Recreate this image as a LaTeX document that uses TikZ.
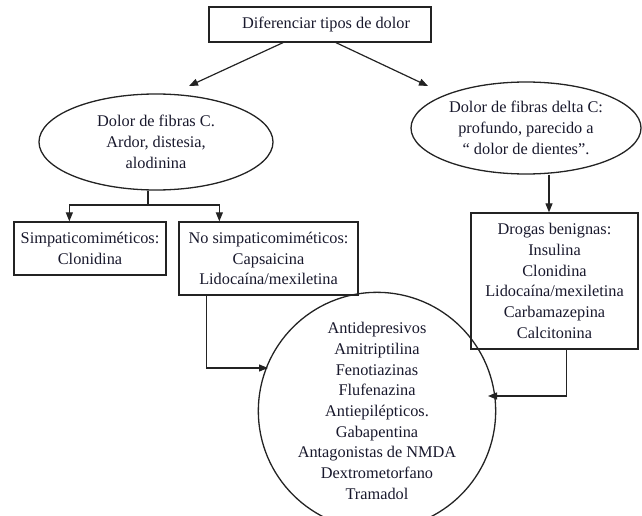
\documentclass[tikz,border=0pt]{standalone}
\usepackage{fontspec}
\setmainfont{Liberation Serif}
\usetikzlibrary{arrows.meta,shapes.geometric,calc}
\definecolor{txt}{RGB}{24,24,44}
\definecolor{lnc}{RGB}{35,35,35}
\begin{document}
\begin{tikzpicture}[x=1pt,y=-1pt,
  every node/.style={font=\fontsize{16.3}{20.7}\selectfont, text=txt, align=center, inner sep=0pt},
  box/.style={draw=lnc, line width=1.3pt, rectangle},
  oval/.style={draw=lnc, line width=1.3pt, ellipse},
  arr/.style={draw=lnc, line width=1.2pt, -{Triangle[length=9pt,width=7pt]}},
  conn/.style={draw=lnc, line width=1.2pt}]
\useasboundingbox (0,0) rectangle (642,516);

\node[box, minimum width=222pt, minimum height=35pt] (top) at (320,24.5) {\hspace*{12pt}Diferenciar tipos de dolor};

\node[oval, minimum width=234pt, minimum height=96pt] (lell) at (156,142)
  {Dolor de fibras C.\\Ardor, distesia,\\alodinina};
\node[oval, minimum width=230pt, minimum height=92pt] (rell) at (526,128)
  {Dolor de fibras delta C:\\profundo, parecido a\\“ dolor de dientes”.};

\node[box, minimum width=152pt, minimum height=53pt] (simp) at (90,248.5)
  {Simpaticomiméticos:\\Clonidina};
\node[box, minimum width=179pt, minimum height=73pt] (nosimp) at (268.5,258.5)
  {No simpaticomiméticos:\\Capsaicina\\Lidocaína/mexiletina};
\node[box, minimum width=167pt, minimum height=136pt] (drog) at (554.5,281)
  {Drogas benignas:\\Insulina\\Clonidina\\Lidocaína/mexiletina\\Carbamazepina\\Calcitonina};

\node[draw=lnc, line width=1.3pt, circle, minimum size=212pt] (circ) at (377,411)
  {Antidepresivos\\Amitriptilina\\Fenotiazinas\\Flufenazina\\Antiepilépticos.\\Gabapentina\\Antagonistas de NMDA\\Dextrometorfano\\Tramadol};

% top arrows
\coordinate (ta) at ($(top.south)+(-37,0)$);
\coordinate (tb) at ($(top.south)+(16,0)$);
\coordinate (la) at (189,86);
\coordinate (ra) at (428,86);
\draw[arr] (ta) -- (la);
\draw[arr] (tb) -- (ra);

% left branch
\coordinate (lj) at (148,205);
\draw[conn] (lell.south -| lj) -- (lj);
\draw[arr] (lj) -| ($(simp.north west)+(56,0)$);
\draw[arr] (lj) -| ($(nosimp.north west)+(41,0)$);

% right stem
\coordinate (rs) at (549,0);
\draw[arr] (rell.south -| rs) -- (drog.north -| rs);

% to circle
\coordinate (nb) at ($(nosimp.south west)+(28,0)$);
\coordinate (ct1) at (268,368);
\draw[arr] (nb) |- (ct1);
\coordinate (db) at ($(drog.south west)+(96,0)$);
\coordinate (ct2) at (488,396);
\draw[arr] (db) |- (ct2);
\end{tikzpicture}
\end{document}
